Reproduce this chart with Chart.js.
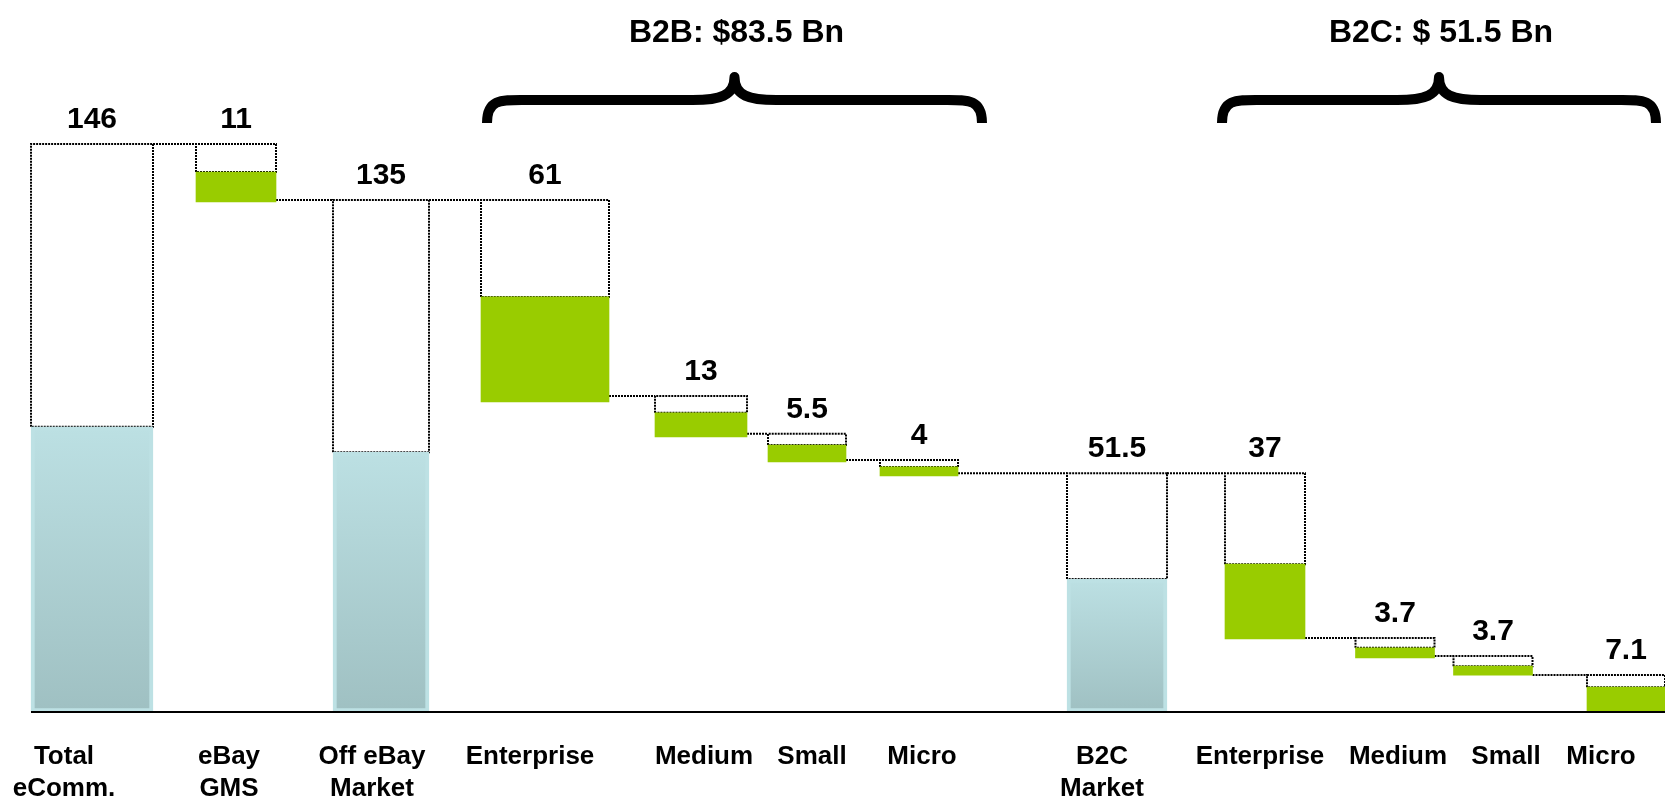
<!DOCTYPE html>
<html lang="en">
<head>
<meta charset="UTF-8">
<title>eCommerce market split</title>
<script src="https://cdn.jsdelivr.net/npm/chart.js"></script>
<style>
    html, body { margin: 0; padding: 0; background: #fff; overflow: hidden; }
    #wrap { position: relative; width: 1672px; height: 800px; }
</style>
</head>
<body>
<div id="wrap"><canvas id="chart"></canvas></div>
<script>
// values ($ Bn, the drawing is schematic, not to scale)
const categories = [['Total', 'eComm.'], ['eBay', 'GMS'], ['Off eBay', 'Market'], 'Enterprise', 'Medium', 'Small', 'Micro',
                    ['B2C', 'Market'], 'Enterprise', 'Medium', 'Small', 'Micro'];
const values     = [146, 11, 135, 61, 13, 5.5, 4, 51.5, 37, 3.7, 3.7, 7.1];
const outlineTop = [146, 146, 131.6, 131.6, 81.2, 71.5, 64.8, 61.4, 61.4, 19.0, 14.4, 9.5];
const barLow     = [0, 131.1, 0, 79.7, 70.7, 64.3, 60.7, 0, 18.8, 13.9, 9.5, 0];
const barHigh    = [73.3, 138.8, 66.8, 106.7, 76.9, 68.6, 63.0, 34.2, 38.0, 16.5, 11.8, 6.4];
const barKind    = ['total', 'part', 'total', 'part', 'part', 'part', 'part', 'total', 'part', 'part', 'part', 'part'];
const groupTitles = ['B2B: $83.5 Bn', 'B2C: $ 51.5 Bn'];

// layout, x axis units are pixels
const barCenter = [92, 236, 381, 545, 701, 807, 919, 1117, 1265, 1395, 1493, 1626];
const barWidth  = [122, 80, 96, 128, 92, 78, 78, 100, 80, 79, 79, 78];
const labelX    = [64, 229, 372, 530, 704, 812, 922, 1102, 1260, 1398, 1506, 1601];
const groupSpan = [[487, 982], [1222, 1656]];
const axisSpan  = [31, 1665];

const FONT = "'Liberation Sans', Arial, sans-serif";
const GREEN = '#99CC00';

function blueFill(c) {
    const chart = c.chart;
    const y = chart.scales.y;
    if (!chart.chartArea || !y) return '#B0D2D4';
    const i = c.datasetIndex;
    const g = chart.ctx.createLinearGradient(0, y.getPixelForValue(barHigh[i]), 0, y.getPixelForValue(barLow[i]));
    g.addColorStop(0, '#BCE0E3');
    g.addColorStop(1, '#9FC0C2');
    return g;
}

const datasets = [];
// the filled bars, one dataset each so every bar keeps its own width
categories.forEach((c, i) => {
    const total = barKind[i] === 'total';
    datasets.push({
        type: 'bar',
        data: [{ x: barCenter[i], y: [barLow[i], barHigh[i]] }],
        barThickness: barWidth[i],
        grouped: false,
        backgroundColor: total ? blueFill : GREEN,
        borderColor: total ? '#BDE1E4' : GREEN,
        borderWidth: total ? 4 : 0,
        borderSkipped: false,
        order: 1
    });
});

// dotted outline boxes and the dotted steps between them
const outline = [];
const steps = [];
categories.forEach((c, i) => {
    const l = barCenter[i] - barWidth[i] / 2, r = barCenter[i] + barWidth[i] / 2;
    outline.push({ x: l, y: barHigh[i] }, { x: l, y: outlineTop[i] }, { x: r, y: outlineTop[i] },
                 { x: r, y: barHigh[i] }, { x: l, y: barHigh[i] }, { x: r, y: null });
    if (i < categories.length - 1) {
        const nl = barCenter[i + 1] - barWidth[i + 1] / 2;
        steps.push({ x: r, y: outlineTop[i + 1] }, { x: nl, y: outlineTop[i + 1] }, { x: nl, y: null });
    }
});
[outline, steps].forEach(pts => datasets.push({
    type: 'line',
    data: pts,
    borderColor: '#000',
    borderWidth: 2,
    borderDash: [2, 1],
    pointRadius: 0,
    fill: false,
    spanGaps: false,
    order: 2
}));

function drawBrace(ctx, x0, x1, yTip, yMid, yEnd) {
    const xc = (x0 + x1) / 2, r = 42;
    ctx.beginPath();
    ctx.moveTo(x0, yEnd);
    ctx.bezierCurveTo(x0, yMid - 2, x0 + r * 0.35, yMid, x0 + r, yMid);
    ctx.lineTo(xc - r, yMid);
    ctx.bezierCurveTo(xc - r * 0.35, yMid, xc, yMid - 4, xc, yTip);
    ctx.bezierCurveTo(xc, yMid - 4, xc + r * 0.35, yMid, xc + r, yMid);
    ctx.lineTo(x1 - r, yMid);
    ctx.bezierCurveTo(x1 - r * 0.35, yMid, x1, yMid - 2, x1, yEnd);
    ctx.lineWidth = 10;
    ctx.lineJoin = 'round';
    ctx.lineCap = 'butt';
    ctx.strokeStyle = '#000';
    ctx.stroke();
}

// axis line, value labels over the boxes, group braces and titles
const annotate = {
    id: 'annotate',
    afterDraw(chart) {
        const { ctx, scales: { x, y } } = chart;
        ctx.save();
        ctx.beginPath();
        ctx.moveTo(x.getPixelForValue(axisSpan[0]), y.getPixelForValue(0));
        ctx.lineTo(x.getPixelForValue(axisSpan[1]), y.getPixelForValue(0));
        ctx.lineWidth = 2;
        ctx.strokeStyle = '#000';
        ctx.stroke();

        ctx.fillStyle = '#000';
        ctx.textAlign = 'center';
        ctx.textBaseline = 'middle';
        ctx.font = 'bold 30px ' + FONT;
        values.forEach((v, i) => {
            ctx.fillText(String(v), x.getPixelForValue(barCenter[i]), y.getPixelForValue(outlineTop[i]) - 24);
        });
        ctx.font = 'bold 32px ' + FONT;
        groupTitles.forEach((t, g) => {
            const x0 = x.getPixelForValue(groupSpan[g][0]);
            const x1 = x.getPixelForValue(groupSpan[g][1]);
            ctx.fillText(t, (x0 + x1) / 2 + 2, 33);
            drawBrace(ctx, x0, x1, 77, 100, 123);
        });
        ctx.restore();
    }
};

new Chart(document.getElementById('chart'), {
    type: 'bar',
    data: { datasets },
    options: {
        responsive: true,
        maintainAspectRatio: false,
        animation: false,
        layout: { padding: { left: 0, right: 7, top: 0, bottom: -8 } },
        plugins: { legend: { display: false }, tooltip: { enabled: false } },
        scales: {
            x: {
                type: 'linear',
                min: 0,
                max: 1665,
                offset: false,
                grid: { display: false, drawTicks: true, tickLength: 26 },
                border: { display: false },
                afterBuildTicks: s => { s.ticks = labelX.map(v => ({ value: v })); },
                ticks: {
                    autoSkip: false,
                    maxRotation: 0,
                    minRotation: 0,
                    padding: 3,
                    color: '#000',
                    font: { family: FONT, size: 26, weight: 'bold', lineHeight: 1.23 },
                    callback: (v, i) => categories[i]
                }
            },
            y: { display: false, min: 0, max: 183, stacked: false }
        }
    },
    plugins: [annotate]
});
</script>
</body>
</html>
